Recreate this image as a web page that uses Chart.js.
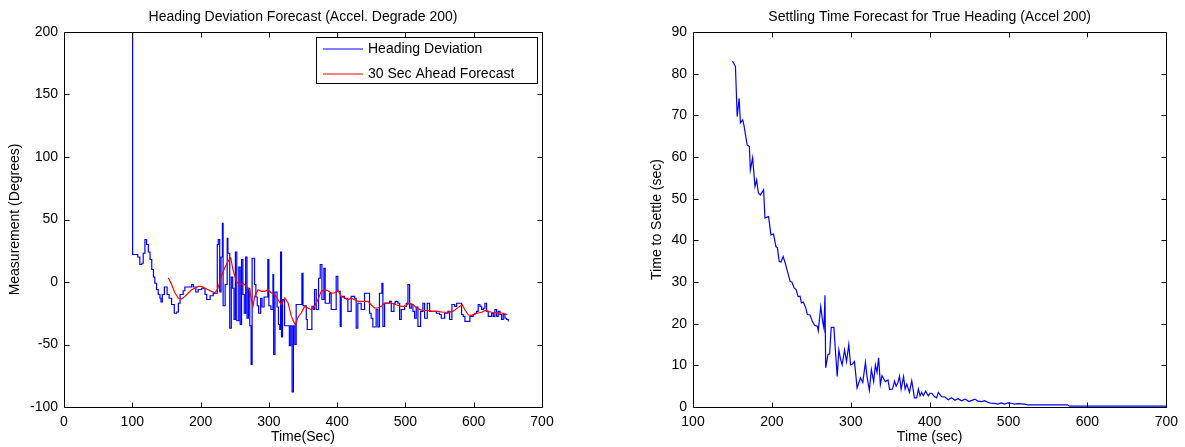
<!DOCTYPE html>
<html>
<head>
<meta charset="utf-8">
<script src="https://cdn.jsdelivr.net/npm/chart.js@4.4.0/dist/chart.umd.min.js"></script>
<style>
  body { margin: 0; background: #fff; }
  canvas { position: absolute; top: 0; }
</style>
</head>
<body>
<canvas id="heading-Chart" width="592" height="447" style="left:0"></canvas>
<canvas id="settle-Chart" width="593" height="447" style="left:592px"></canvas>
<script>
// heading deviation (blue, stairs)
const headingTime = [100,100.5,106,108,111,114,116,118.5,121,123.5,126,128.5,131,133,135.5,138,140.5,142,144,147,149,151,154,157.5,161.5,165,167.5,170,174.5,177,182,187,189.5,193,196.5,201.5,206.5,209,214,218.5,223.5,224.5,226,228,230,232,233,236,239,240,242.7,245,247,249,251,253,256,258,260,262,264,266,268,270,272,274,275.5,279,281,283,285,288,290,293,298.5,300,303,306,307,309,312,314,316,317.2,318.5,320,323,328,330,332,334,336,338,340,343,348.4,350,354.8,356.2,362.1,363,365.5,366.9,369.4,372.8,375.2,377.7,380.6,382.5,386.4,388.9,391.3,396.2,398.6,401,404.5,405.9,410.8,415.7,420.6,425.5,427.9,430.3,435.2,440.1,444.9,447.4,449.8,452.3,457.1,459.6,462,465.6,467,469.5,473.4,476.8,479.3,483.2,485.1,489,491.5,493.9,498.8,501.2,503.7,506.1,508.5,511,513.4,515.8,518.3,522.2,525.6,528.1,532,535.4,540.3,545.2,550,552.5,557.4,562.3,564.7,568.1,572,574.9,579.8,582.2,584.6,587.1,592,594.4,596.9,599.3,601.8,604.2,606.6,609.1,611.5,614,616.4,618.8,621.3,626.2,628.6,631,633.5,635.9,638.4,640.8,643.2,645.7,648.1,650.6];
const headingDeviation = [200,22,22,20,14,15,23,34,30,24,18,10,4,-1,-6,-10,-13,-16,-10,-4,-4,-10,-13,-18,-25,-24,-17,-10,-7,-4,-4,-2,-4,-8,-6,-5,-10,-14,-11,-9,-9,30,34,-8,20,47,-19,-2,35,23,-37,4,-5,-30,24,-31,12,-34,18,-10,-25,20,-29,-5,-35,-66,19,-2,-12,-19,-25,-13,-20,-12,18,-19,-22,6,-58,-8,-20,-34,-38,24,-44,-14,-35,-35,-51,-35,-88,-35,-50,-18,-18,7,-19,-30,-38,-38,-19.5,-22,-6,-22,3,14,-14,11,-17,-17,-9,-22,-22,4.5,-7.5,-35.5,-11.5,-13,-23.5,-11.5,-13,-37,-17,-22,-9,-9,-25,-29,-36,-22,-36,-9,-1,-35.5,-17,-17,-15.5,-23.5,-17,-15.5,-17,-30,-22,-19.5,-17,-2,-21,-18,-23.5,-29,-20,-35.5,-23.5,-17,-29,-17,-23.5,-23.5,-25,-26,-29,-25,-23.5,-30,-18,-19.5,-17,-17,-26,-27.5,-31.5,-31.5,-27.5,-27.5,-26,-25,-23.5,-18,-19.5,-22,-21,-17,-23.5,-27.5,-25,-27.5,-22,-27.5,-23.5,-26,-30,-26,-29,-30,-31.5];

// 30 sec ahead forecast (red)
const forecastTime = [152.8,157.6,162.5,167.4,172.3,177.2,182,186.9,191.8,196.6,201.5,206.4,211.3,216.1,221,225.5,230.4,235.3,240.2,244.1,247.5,252.4,257.3,262.2,267.1,272,274.4,276.8,279.3,284.2,289.1,293.9,298.8,303.7,308.6,313.5,318.4,323.3,328.2,333,338.5,342.8,347.4,352.3,357.2,362.1,366.9,371.8,376.7,381.6,386.4,391.3,396.2,401.1,405.9,410.8,415.7,420.6,425.5,430.3,435.2,440.1,445,449.8,454.7,459.7,464.5,469.5,479.3,486.6,493.9,498.8,506.1,511,518.3,525.6,532.9,540.3,547.6,554.9,562.2,569.6,576.9,583.2,587.1,592,596.9,601.8,606.6,611.5,616.4,621.3,626.2,631,635.9,640.8,645.7,649.1];
const forecastValue = [3.2,-2,-8.8,-12.8,-13.6,-11.5,-8.8,-6.2,-5,-3.5,-3.5,-5,-6.2,-7.5,-8.8,-5,4.5,11.2,16.5,19.2,9.8,0.5,-2.2,-1,-3.5,-6.2,-14.2,-19.5,-11.5,-6.2,-7.5,-7.5,-6.2,-8.8,-10.2,-14.2,-18.2,-12.8,-16.8,-27.5,-34.2,-28,-24.8,-19.5,-20.8,-22.2,-19.5,-14.2,-7.5,-6.2,-7,-8.8,-8.8,-6.7,-11.5,-12.8,-14.2,-12.8,-14.2,-15.5,-15.5,-15.5,-15.5,-18.2,-20.8,-20.8,-19.5,-16.8,-16.8,-18.2,-19.5,-19.5,-16.8,-18.2,-21.5,-22.8,-22.8,-23.5,-23.5,-24.2,-24.2,-23.5,-20.5,-18.2,-22.2,-26.2,-26.8,-25.5,-24.8,-24.2,-22.8,-23.5,-24.2,-24.5,-24.5,-24.8,-25.5,-26.2];

// settling time forecast
const settleTime = [150,151.5,153.8,156,158.5,160.1,163,164.5,168.6,171.5,172.7,175.6,178.6,180.7,182.8,185.3,189.5,191.2,195.8,198.8,202.1,205.1,207,209.3,211.5,214.3,216.8,219.8,223.2,225.3,228.2,230.7,233.2,235.7,237.4,239.9,242.9,245,248.4,251.3,254.2,257.6,258.8,261.9,264.4,266,267.3,268.2,271.1,273.2,275.2,278.6,280,282.8,284.9,287,289.1,292.1,294.6,297.5,299.7,302,304.7,308,312.3,315.2,318.6,320.6,323.6,326.1,329,331.2,333.3,335.3,337.5,339.6,343.8,347.2,349.2,352.9,355.5,357.5,359.7,361.8,363.8,366.9,368.9,371,374.4,377.3,380.7,383.6,385.7,387.8,389.9,392,394.9,398.3,400.4,402.6,405.9,408.8,411,415,419.4,423.6,427.8,432,436,440.4,445,449.8,453.5,457.2,461.4,465.6,469.8,474,478,482.4,486.6,490.8,495,499.2,503.4,507.6,511.8,520.2,524.4,575,577,700];
const settleValue = [83,82.5,81.7,69.7,74.1,68.2,68.9,67.7,62.9,62.5,56.9,59.8,52.9,54.5,51.4,50.9,52.1,45.4,45.7,41.3,41.5,38.5,38.2,34.9,34.8,36.1,34.6,32.5,30.1,30,28.6,28.2,26.5,26.6,25,25.2,23.8,22.2,22.1,20.5,19.6,19.4,18.3,24.1,20.5,18.9,26.8,9.4,12.6,12.7,19.1,19.1,15,7.3,13.7,11.5,10.1,13.7,10.9,15,10.1,10.3,10.9,4.6,7,5.9,10.7,7.3,4,9,6.1,10.1,8.3,11.8,5.4,7.5,6.1,6.5,4.2,4.3,6.2,5,5.8,7.4,4.3,7.3,4.3,5.5,3.5,6.3,2.2,2.2,4.3,2.7,3.5,2.7,3.8,2.7,3.3,3.3,2.5,2.2,3.5,2.5,2.4,1.75,2.2,1.6,2,1.5,1.9,1.3,1.6,1.9,1.4,1.3,1.5,1.1,0.9,0.85,0.7,1,0.7,1,0.9,0.7,0.8,0.7,0.5,0.5,0.2,0.2];

// tick labels
const headingXTicks = [0,100,200,300,400,500,600,700];
const headingYTicks = [-100,-50,0,50,100,150,200];
const settleXTicks = [100,200,300,400,500,600,700];
const settleYTicks = [0,10,20,30,40,50,60,70,80,90];

const toPoints = (xs, ys) => xs.slice(0, Math.min(xs.length, ys.length)).map((x, i) => ({x: x, y: ys[i]}));
const setTicks = arr => scale => { scale.ticks = arr.map(v => ({value: v})); };

Chart.defaults.font.family = '"Liberation Sans", Arial, sans-serif';
Chart.defaults.font.size = 14;
Chart.defaults.color = '#000';

// box round the plot with inward tick marks on all sides
const matlabBox = {
    id: 'matlabBox',
    afterDatasetsDraw(chart) {
        const {ctx, chartArea: a, scales} = chart;
        const L = Math.round(a.left) + 0.5, R = Math.round(a.right) + 0.5;
        const T = Math.round(a.top) + 0.5, B = Math.round(a.bottom) + 0.5;
        ctx.save();
        ctx.strokeStyle = '#000';
        ctx.lineWidth = 1;
        ctx.beginPath();
        ctx.rect(L, T, R - L, B - T);
        scales.x.ticks.forEach(t => {
            const p = Math.round(scales.x.getPixelForValue(t.value)) + 0.5;
            ctx.moveTo(p, B); ctx.lineTo(p, B - 5);
            ctx.moveTo(p, T); ctx.lineTo(p, T + 5);
        });
        scales.y.ticks.forEach(t => {
            const p = Math.round(scales.y.getPixelForValue(t.value)) + 0.5;
            ctx.moveTo(L, p); ctx.lineTo(L + 5, p);
            ctx.moveTo(R, p); ctx.lineTo(R - 5, p);
        });
        ctx.stroke();
        ctx.restore();
    }
};

// legend box inside the plot, top right
const boxLegend = {
    id: 'boxLegend',
    afterDraw(chart, args, o) {
        const ctx = chart.ctx;
        ctx.save();
        ctx.fillStyle = '#fff';
        ctx.fillRect(o.x, o.y, o.w, o.h);
        ctx.strokeStyle = '#000';
        ctx.lineWidth = 1;
        ctx.strokeRect(o.x + 0.5, o.y + 0.5, o.w, o.h);
        ctx.font = '14px "Liberation Sans", Arial, sans-serif';
        ctx.textBaseline = 'middle';
        chart.data.datasets.forEach((ds, i) => {
            const y = Math.round(o.y + o.first + i * o.gap);
            ctx.strokeStyle = ds.borderColor;
            ctx.lineWidth = 1.2;
            ctx.beginPath();
            ctx.moveTo(o.x + 7, y);
            ctx.lineTo(o.x + 47, y);
            ctx.stroke();
            ctx.fillStyle = '#000';
            ctx.fillText(ds.label, o.x + 52, y);
        });
        ctx.restore();
    }
};

const axisFont = {size: 14};

const headingChart = new Chart(document.getElementById('heading-Chart'), {
    type: 'line',
    data: {
        datasets: [
            {
                label: 'Heading Deviation',
                data: toPoints(headingTime, headingDeviation),
                borderColor: '#0000FF',
                borderWidth: 1.2,
                pointRadius: 0,
                stepped: true,
                order: 1
            },
            {
                label: '30 Sec Ahead Forecast',
                data: toPoints(forecastTime, forecastValue),
                borderColor: '#FF0000',
                borderWidth: 1.2,
                pointRadius: 0,
                tension: 0,
                order: 0
            }
        ]
    },
    options: {
        responsive: false,
        animation: false,
        layout: {padding: {left: 0, right: 50, top: 0, bottom: 0}},
        plugins: {
            legend: {display: false},
            tooltip: {enabled: false},
            title: {
                display: true,
                fullSize: false,
                text: 'Heading Deviation Forecast (Accel. Degrade 200)',
                color: '#000',
                font: {size: 14, weight: 'normal'},
                padding: {top: 9, bottom: 6.2}
            },
            boxLegend: {x: 316, y: 37, w: 221, h: 46, first: 12, gap: 25}
        },
        scales: {
            x: {
                type: 'linear',
                min: 0, max: 700,
                afterBuildTicks: setTicks(headingXTicks),
                afterFit: s => { s.height = 40; },
                grid: {display: false, drawTicks: false},
                border: {display: false},
                ticks: {padding: 7, maxRotation: 0, autoSkip: false, font: axisFont},
                title: {display: true, text: 'Time(Sec)', font: axisFont, padding: {top: 0, bottom: 1.6}}
            },
            y: {
                type: 'linear',
                min: -100, max: 200,
                afterBuildTicks: setTicks(headingYTicks),
                afterFit: s => { s.width = 64; },
                grid: {display: false, drawTicks: false},
                border: {display: false},
                ticks: {padding: 6, autoSkip: false, font: axisFont},
                title: {display: true, text: 'Measurement (Degrees)', font: axisFont, padding: {top: 6.6, bottom: 0}}
            }
        }
    },
    plugins: [matlabBox, boxLegend]
});

const settleChart = new Chart(document.getElementById('settle-Chart'), {
    type: 'line',
    data: {
        datasets: [
            {
                label: 'Time to Settle',
                data: toPoints(settleTime, settleValue),
                borderColor: '#0000FF',
                borderWidth: 1.2,
                pointRadius: 0,
                tension: 0
            }
        ]
    },
    options: {
        responsive: false,
        animation: false,
        layout: {padding: {left: 50, right: 16, top: 0, bottom: 0}},
        plugins: {
            legend: {display: false},
            tooltip: {enabled: false},
            title: {
                display: true,
                fullSize: false,
                text: 'Settling Time Forecast for True Heading (Accel 200)',
                color: '#000',
                font: {size: 14, weight: 'normal'},
                padding: {top: 9, bottom: 6.2}
            }
        },
        scales: {
            x: {
                type: 'linear',
                min: 100, max: 700,
                afterBuildTicks: setTicks(settleXTicks),
                afterFit: s => { s.height = 40; },
                grid: {display: false, drawTicks: false},
                border: {display: false},
                ticks: {padding: 7, maxRotation: 0, autoSkip: false, font: axisFont},
                title: {display: true, text: 'Time (sec)', font: axisFont, padding: {top: 0, bottom: 1.6}}
            },
            y: {
                type: 'linear',
                min: 0, max: 90,
                afterBuildTicks: setTicks(settleYTicks),
                afterFit: s => { s.width = 51; },
                grid: {display: false, drawTicks: false},
                border: {display: false},
                ticks: {padding: 6, autoSkip: false, font: axisFont},
                title: {display: true, text: 'Time to Settle (sec)', font: axisFont, padding: {top: 6.6, bottom: 0}}
            }
        }
    },
    plugins: [matlabBox]
});
</script>
</body>
</html>
